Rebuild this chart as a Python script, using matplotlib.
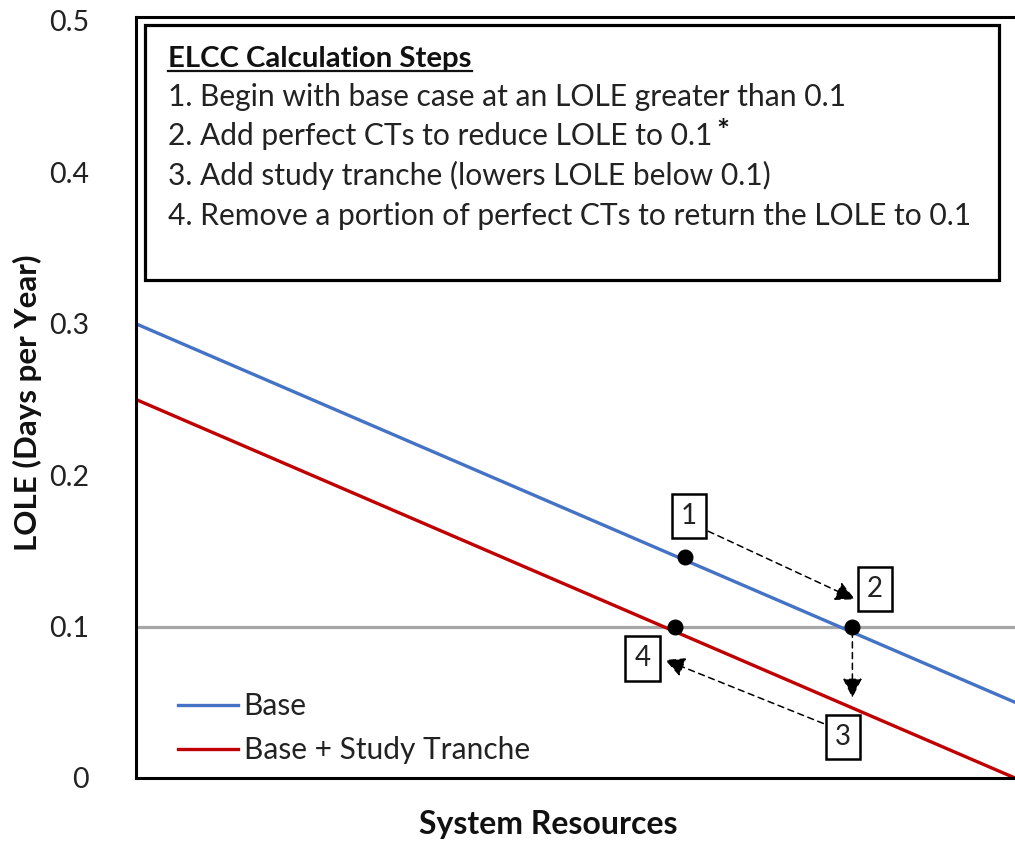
import matplotlib
matplotlib.use("Agg")
import matplotlib.pyplot as plt
from matplotlib.patches import Rectangle
from matplotlib.lines import Line2D

plt.rcParams['font.family'] = ['Lato', 'DejaVu Sans']

# ---- data ----
x_ends = [0.0, 1.0]
base_vals = [0.30, 0.05]
tranche_vals = [0.25, 0.0]
target_lole = 0.1
series_labels = ["Base", "Base + Study Tranche"]
yticks = [0, 0.1, 0.2, 0.3, 0.4, 0.5]
ytick_labels = ["0", "0.1", "0.2", "0.3", "0.4", "0.5"]

point_x = [0.625, 0.815, 0.613]
point_y = [0.146, 0.100, 0.100]

step_labels = ["1", "2", "3", "4"]
step_box_x = [0.629, 0.841, 0.804, 0.576]
step_box_y = [0.173, 0.125, 0.027, 0.079]

arrow_start = [(0.651, 0.163), (0.815, 0.097), (0.782, 0.036)]
arrow_end = [(0.818, 0.118), (0.815, 0.053), (0.602, 0.078)]

title_text = "ELCC Calculation Steps"
step_lines = [
    "1. Begin with base case at an LOLE greater than 0.1",
    "2. Add perfect CTs to reduce LOLE to 0.1",
    "3. Add study tranche (lowers LOLE below 0.1)",
    "4. Remove a portion of perfect CTs to return the LOLE to 0.1",
]

W, H = 1015, 842
fig = plt.figure(figsize=(W / 100, H / 100), dpi=100)
ax_l, ax_r, ax_t, ax_b = 136, 1015, 17, 778
ax = fig.add_axes([ax_l / W, 1 - ax_b / H, (ax_r - ax_l) / W, (ax_b - ax_t) / H])

ax.set_xlim(0, 1)
ax.set_ylim(0, 0.5 + 4 / 1515 * 1.0)

ax.axhline(target_lole, color='#A6A6A6', lw=2.3, zorder=1)
ax.plot(x_ends, base_vals, color='#4472C4', lw=2.4, zorder=2, label=series_labels[0])
ax.plot(x_ends, tranche_vals, color='#C00000', lw=2.4, zorder=2, label=series_labels[1])

ax.plot(point_x, point_y, 'o', color='black', ms=10.5, zorder=5)

for lab, bx, by in zip(step_labels, step_box_x, step_box_y):
    ax.text(bx, by, lab, ha='center', va='center', fontsize=20, color='#222222', zorder=6,
            bbox=dict(boxstyle='square,pad=0.33', fc='white', ec='black', lw=1.8))

for (sx, sy), (ex, ey) in zip(arrow_start, arrow_end):
    ax.annotate('', xy=(ex, ey), xytext=(sx, sy),
                arrowprops=dict(arrowstyle='-|>,head_length=1.2,head_width=0.6', color='black',
                                lw=1.1, linestyle=(0, (4, 3)), shrinkA=0, shrinkB=0),
                zorder=4)

ax.spines['right'].set_visible(False)
for s in ['left', 'bottom', 'top']:
    ax.spines[s].set_linewidth(2.2)
    ax.spines[s].set_color('black')
ax.set_xticks([])
ax.set_yticks(yticks)
ax.set_yticklabels(ytick_labels)
ax.tick_params(axis='y', length=0, pad=34, labelsize=20.5, labelcolor='#222222')

leg = ax.legend(loc='lower left', bbox_to_anchor=((178 - ax_l) / (ax_r - ax_l), (ax_b - 764) / (ax_b - ax_t)),
                frameon=False, fontsize=21.5, handlelength=2.0, handletextpad=0.2, labelspacing=0.52,
                borderaxespad=0, borderpad=0)
for t in leg.get_texts():
    t.set_color('#222222')

# text box
def px2ax(px, py):
    return (px - ax_l) / (ax_r - ax_l), (ax_b - py) / (ax_b - ax_t)

x0, y0 = px2ax(145, 280)
x1, y1 = px2ax(999, 25)
ax.add_patch(Rectangle((x0, y0), x1 - x0, y1 - y0, transform=ax.transAxes, fc='white', ec='black',
                       lw=2.3, zorder=7))

def fig_pos(px, py):
    return px / W, 1 - py / H

tx, ty = fig_pos(168, 67)
title = fig.text(tx, ty, title_text, fontsize=21.2, fontweight='bold', color='#111111', va='baseline', zorder=10)
line_objs = []
for i, s in enumerate(step_lines):
    lx, ly = fig_pos(168, 106 + 39.5 * i)
    line_objs.append(fig.text(lx, ly, s, fontsize=21.6, color='#222222', va='baseline', zorder=10))

fig.text(27 / W, 1 - 403 / H, "LOLE (Days per Year)", rotation=90, ha='center', va='center',
         fontsize=22.5, fontweight='bold', color='#111111')
fig.text(548 / W, 1 - 834 / H, "System Resources", ha='center', va='baseline',
         fontsize=23, fontweight='bold', color='#111111')

fig.canvas.draw()
r = fig.canvas.get_renderer()
bb = title.get_window_extent(r)
fig.add_artist(Line2D([bb.x0 / W, bb.x1 / W], [1 - 71 / H, 1 - 71 / H], color='#111111', lw=1.6))
bb2 = line_objs[1].get_window_extent(r)
fig.text((bb2.x1 + 4) / W, 1 - 141 / H, "*", fontsize=22, fontweight='bold', color='#111111', va='baseline')

fig.savefig("out.png", dpi=100)
